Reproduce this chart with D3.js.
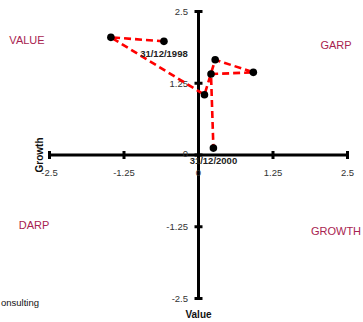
<!DOCTYPE html>
<html><head><meta charset="utf-8">
<script src="https://cdn.jsdelivr.net/npm/d3@7"></script>
<style>html,body{margin:0;padding:0;background:#fff;}svg{display:block;}</style>
</head><body>
<svg id="c" width="363" height="322"></svg>
<script>
const dates = ["31/12/1998","","","","","","31/12/2000"];
const valueScores  = [-0.58,-1.47,0.10,0.28,0.92,0.21,0.25];
const growthScores = [1.98,2.05,1.05,1.66,1.44,1.41,0.12];
const xTicks = [-2.5,-1.25,0,1.25,2.5];
const yTicks = [-2.5,-1.25,0,1.25,2.5];
const xTickLabels = ["-2.5","-1.25","0","1.25","2.5"];
const yTickLabels = ["-2.5","-1.25","0","1.25","2.5"];
const quadrants = [
  {name:"VALUE", qx:-1, qy:1},
  {name:"GARP", qx:1, qy:1},
  {name:"DARP", qx:-1, qy:-1},
  {name:"GROWTH", qx:1, qy:-1}
];

const svg = d3.select("#c");
const x = d3.scaleLinear().domain([-2.5,2.5]).range([49.5,347.5]);
const y = d3.scaleLinear().domain([-2.5,2.5]).range([298.5,11.5]);
const font = "'Liberation Sans', Arial, sans-serif";

// axes lines
svg.append("line").attr("x1",x(-2.5)).attr("x2",x(2.5)).attr("y1",y(0)).attr("y2",y(0))
  .attr("stroke","#000").attr("stroke-width",3);
svg.append("line").attr("x1",x(0)).attr("x2",x(0)).attr("y1",y(2.5)).attr("y2",y(-2.5))
  .attr("stroke","#000").attr("stroke-width",3);
// ticks
svg.selectAll(".xt").data(xTicks).enter().append("line")
  .attr("x1",d=>x(d)).attr("x2",d=>x(d)).attr("y1",y(0)-4).attr("y2",y(0)+4)
  .attr("stroke","#000").attr("stroke-width",3);
svg.selectAll(".yt").data(yTicks).enter().append("line")
  .attr("y1",d=>y(d)).attr("y2",d=>y(d)).attr("x1",x(0)-4).attr("x2",x(0)+4)
  .attr("stroke","#000").attr("stroke-width",3);
// tick labels
svg.selectAll(".xl").data(xTicks).enter().append("text")
  .attr("x",d=>x(d)).attr("y",y(0)+20.5).attr("text-anchor","middle")
  .attr("font-family",font).attr("font-size","9.5px").attr("fill","#333")
  .text((d,i)=>xTickLabels[i]);
svg.selectAll(".yl").data(yTicks).enter().append("text")
  .attr("x",x(0)-10.5).attr("y",d=>y(d)+(d===0?1.5:3.5)).attr("text-anchor","end")
  .attr("font-family",font).attr("font-size","9.5px").attr("fill","#333")
  .text((d,i)=>yTickLabels[i]);

// axis titles
svg.append("text").attr("x",x(0)).attr("y",318).attr("text-anchor","middle")
  .attr("font-family",font).attr("font-size","10px").attr("font-weight","bold").attr("fill","#111")
  .text("Value");
svg.append("text").attr("transform",`translate(42.5,${y(0)}) rotate(-90)`).attr("text-anchor","middle")
  .attr("font-family",font).attr("font-size","10px").attr("font-weight","bold").attr("fill","#111")
  .text("Growth");

// quadrant labels
const qpos = {VALUE:[27,43.5],GARP:[336,49],DARP:[34,229],GROWTH:[336,235]};
svg.selectAll(".q").data(quadrants).enter().append("text")
  .attr("x",d=>qpos[d.name][0]).attr("y",d=>qpos[d.name][1]).attr("text-anchor","middle")
  .attr("font-family",font).attr("font-size","11px").attr("fill","#a8234f")
  .text(d=>d.name);

svg.append("text").attr("x",1).attr("y",306).attr("font-family",font).attr("font-size","9.5px")
  .attr("fill","#111").text("onsulting");

// path
const pts = valueScores.map((v,i)=>({v, g:growthScores[i], d:dates[i]}));
svg.append("path").datum(pts)
  .attr("d", d3.line().x(d=>x(d.v)).y(d=>y(d.g)))
  .attr("fill","none").attr("stroke","#ff0000").attr("stroke-width",2.6)
  .attr("stroke-dasharray","7,4");
svg.selectAll(".pt").data(pts).enter().append("circle")
  .attr("cx",d=>x(d.v)).attr("cy",d=>y(d.g)).attr("r",3.8).attr("fill","#000");
svg.selectAll(".dl").data(pts.filter(p=>p.d)).enter().append("text")
  .attr("x",d=>x(d.v)).attr("y",d=>y(d.g)+15.6).attr("text-anchor","middle")
  .attr("font-family",font).attr("font-size","9.5px").attr("font-weight","bold").attr("fill","#222")
  .text(d=>d.d);
</script>
</body></html>
